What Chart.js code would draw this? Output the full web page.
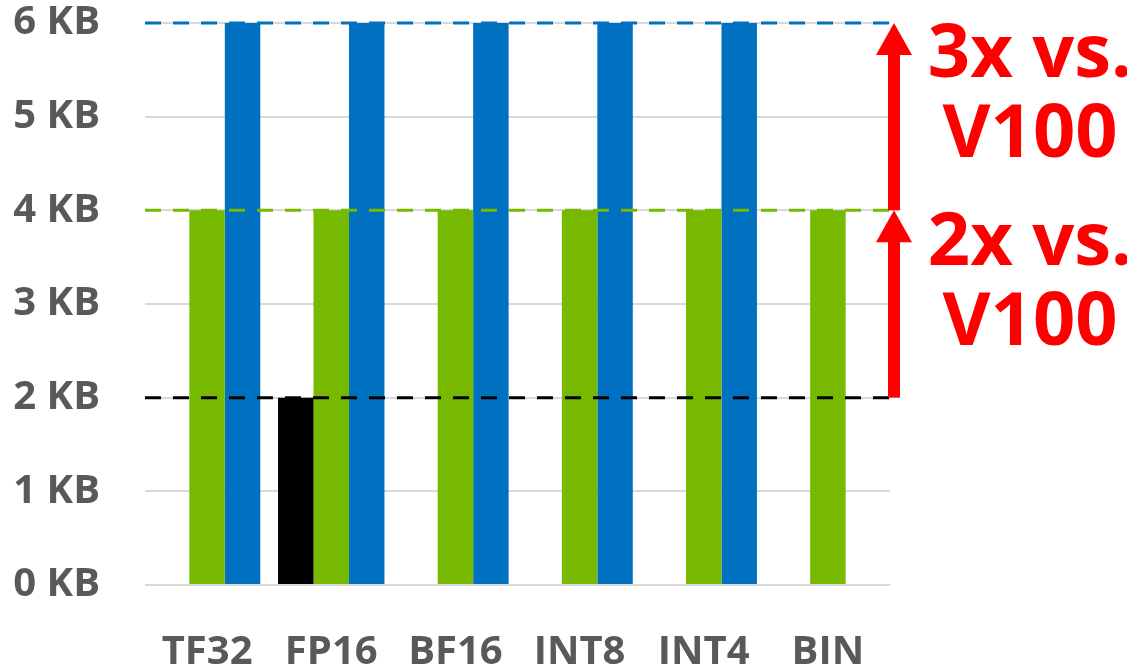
<!DOCTYPE html>
<html>
<head>
<meta charset="utf-8">
<script src="https://cdn.jsdelivr.net/npm/chart.js@4/dist/chart.umd.min.js"></script>
<style>
  html, body { margin: 0; padding: 0; background: #fff; }
  #wrap { width: 1127px; height: 670px; }
</style>
</head>
<body>
<div id="wrap"><canvas id="memChart"></canvas></div>
<script>
const formats = ["TF32", "FP16", "BF16", "INT8", "INT4", "BIN"];
const v100 = [null, 2, null, null, null, null];
const a100 = [4, 4, 4, 4, 4, 4];
const h100 = [6, 6, 6, 6, 6, null];
const yTicks = [0, 1, 2, 3, 4, 5, 6];
const refLevels = [6, 4, 2];
const refColors = ["#0070C0", "#76B900", "#000000"];
const gainLabels = [["3x vs.", "V100"], ["2x vs.", "V100"]];

const grey = "#595959";
const tickFont = { family: "'Open Sans', sans-serif", size: 40, weight: "bold" };

// dashed reference lines + red arrows and text on the right
const overlay = {
    id: "overlay",
    afterDatasetsDraw(chart) {
        const ctx = chart.ctx;
        const area = chart.chartArea;
        const y = chart.scales.y;

        ctx.save();
        ctx.lineWidth = 3;
        ctx.setLineDash([16, 12]);
        refLevels.forEach((lv, i) => {
            const py = y.getPixelForValue(lv);
            ctx.strokeStyle = refColors[i];
            ctx.beginPath();
            ctx.moveTo(area.left, py);
            ctx.lineTo(area.right, py);
            ctx.stroke();
        });
        ctx.setLineDash([]);

        const ax = area.right + 4;
        function arrow(fromVal, toVal) {
            const y0 = y.getPixelForValue(fromVal);
            const y1 = y.getPixelForValue(toVal);
            ctx.fillStyle = "#FF0000";
            ctx.fillRect(ax - 6, y1 + 30, 12, y0 - y1 - 30);
            ctx.beginPath();
            ctx.moveTo(ax, y1);
            ctx.lineTo(ax - 18, y1 + 32);
            ctx.lineTo(ax + 18, y1 + 32);
            ctx.closePath();
            ctx.fill();
        }
        arrow(2, 4);
        arrow(4, 6);

        ctx.fillStyle = "#FF0000";
        ctx.font = "bold 74px 'Open Sans', sans-serif";
        ctx.textAlign = "center";
        ctx.textBaseline = "alphabetic";
        const tx = area.right + 140;
        const top1 = y.getPixelForValue(6);
        const top2 = y.getPixelForValue(4);
        ctx.fillText(gainLabels[0][0], tx, top1 + 54);
        ctx.fillText(gainLabels[0][1], tx, top1 + 134);
        ctx.fillText(gainLabels[1][0], tx, top2 + 55);
        ctx.fillText(gainLabels[1][1], tx, top2 + 135);
        ctx.restore();
    }
};

new Chart(document.getElementById("memChart"), {
    type: "bar",
    data: {
        labels: formats,
        datasets: [
            { label: "V100", data: v100, backgroundColor: "#000000" },
            { label: "A100", data: a100, backgroundColor: "#76B900" },
            { label: "H100", data: h100, backgroundColor: "#0070C0" }
        ]
    },
    options: {
        responsive: true,
        maintainAspectRatio: false,
        animation: false,
        datasets: { bar: { categoryPercentage: 0.857, barPercentage: 1.0 } },
        layout: { padding: { top: 23, right: 237, left: 0, bottom: 0 } },
        plugins: { legend: { display: false }, tooltip: { enabled: false } },
        scales: {
            x: {
                grid: { display: false },
                border: { display: false },
                ticks: { color: grey, font: tickFont, padding: 36, maxRotation: 0 },
                afterFit(scale) { scale.height = 85; scale.paddingLeft = 0; scale.paddingRight = 0; }
            },
            y: {
                min: 0,
                max: 6,
                afterBuildTicks(scale) { scale.ticks = yTicks.map(v => ({ value: v })); },
                grid: { color: "#D9D9D9", lineWidth: 2, drawTicks: false },
                border: { display: false },
                ticks: { color: grey, font: tickFont, padding: 45, callback: v => v + " KB" },
                afterFit(scale) { scale.width = 145; scale.paddingTop = 0; scale.paddingBottom = 0; }
            }
        }
    },
    plugins: [overlay]
});
</script>
</body>
</html>
